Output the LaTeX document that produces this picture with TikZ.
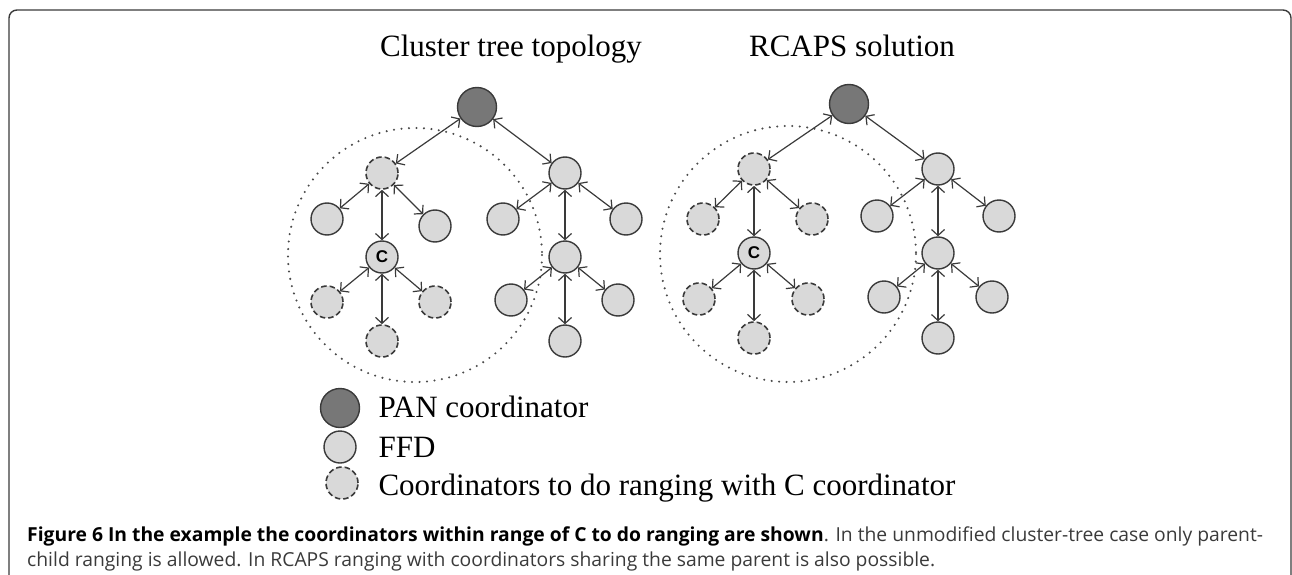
\documentclass[tikz,border=0pt]{standalone}
\usepackage{fontspec}
\setmainfont{Liberation Serif}
\newfontfamily\capfont{Open Sans}
\newfontfamily\labfont{Liberation Sans}
\usetikzlibrary{arrows.meta}
\definecolor{edgecol}{HTML}{3A3A3A}
\definecolor{ffdfill}{HTML}{D9D9D9}
\definecolor{panfill}{HTML}{777777}
\definecolor{dotcol}{HTML}{4A4A4A}
\definecolor{captxtcol}{HTML}{3A3A3A}
\tikzset{
  ffdnode/.style={circle, draw=edgecol, fill=ffdfill, line width=1.4pt, minimum size=32pt, inner sep=0pt},
  rngnode/.style={ffdnode, line width=1.6pt, dash pattern=on 5.5pt off 3pt},
  pannode/.style={circle, draw=edgecol, fill=panfill, line width=1.4pt, minimum size=39pt, inner sep=0pt},
  conn/.style={{Straight Barb[length=6pt,width=13pt]}-{Straight Barb[length=6pt,width=13pt]}, line width=1.2pt, draw=edgecol},
  rangecirc/.style={draw=dotcol, line width=2.3pt, line cap=round, dash pattern=on 0pt off 7.5pt},
  ttlstyle/.style={font=\fontsize{31}{37}\selectfont, anchor=base},
  legtxt/.style={font=\fontsize{31}{37}\selectfont, anchor=base west},
  clab/.style={font=\labfont\bfseries\fontsize{17}{20}\selectfont},
  capstyle/.style={font=\capfont\fontsize{19.3}{24}\selectfont, anchor=base west, inner sep=0pt, text=captxtcol}
}
\begin{document}
\begin{tikzpicture}[x=1pt,y=-1pt]
\useasboundingbox (0,0) rectangle (1292,575);
% frame
\draw[edgecol, line width=1.4pt, rounded corners=8pt] (9,600) -- (9,10) -- (1291,10) -- (1291,600);
% titles
\node[ttlstyle] (t1) at (511,57) {Cluster tree topology};
\node[ttlstyle] (t2) at (852,57) {RCAPS solution};
% range circles
\draw[rangecirc] (415,255) circle[radius=127];
\draw[rangecirc] (788,254) circle[radius=128];
% tree 1
\node[pannode] (r1) at (477,107) {};
\node[rngnode] (a1) at (382,173) {};
\node[ffdnode] (b1) at (565,173) {};
\node[ffdnode] (a1L) at (327,219) {};
\node[ffdnode] (a1R) at (435,226) {};
\node[ffdnode, clab] (c1) at (382,257) {C};
\node[rngnode] (c1L) at (327,302) {};
\node[rngnode] (c1R) at (435,302) {};
\node[rngnode] (c1B) at (382,341) {};
\node[ffdnode] (b1L) at (503,219) {};
\node[ffdnode] (b1R) at (626,219) {};
\node[ffdnode] (d1) at (565,257) {};
\node[ffdnode] (d1L) at (511,300) {};
\node[ffdnode] (d1R) at (618,300) {};
\node[ffdnode] (d1B) at (565,341) {};
\foreach \p/\c in {r1/a1,r1/b1,a1/a1L,a1/a1R,a1/c1,c1/c1L,c1/c1R,c1/c1B,b1/b1L,b1/b1R,b1/d1,d1/d1L,d1/d1R,d1/d1B}
  \draw[conn] (\p) -- (\c);
% tree 2
\node[pannode] (r2) at (849,104) {};
\node[rngnode] (a2) at (754,169) {};
\node[ffdnode] (b2) at (938,169) {};
\node[rngnode] (a2L) at (703,219) {};
\node[rngnode] (a2R) at (812,219) {};
\node[ffdnode, clab] (c2) at (754,253) {C};
\node[rngnode] (c2L) at (699,299) {};
\node[rngnode] (c2R) at (808,299) {};
\node[rngnode] (c2B) at (754,338) {};
\node[ffdnode] (b2L) at (877,216) {};
\node[ffdnode] (b2R) at (999,216) {};
\node[ffdnode] (d2) at (938,253) {};
\node[ffdnode] (d2L) at (884,297) {};
\node[ffdnode] (d2R) at (992,297) {};
\node[ffdnode] (d2B) at (938,338) {};
\foreach \p/\c in {r2/a2,r2/b2,a2/a2L,a2/a2R,a2/c2,c2/c2L,c2/c2R,c2/c2B,b2/b2L,b2/b2R,b2/d2,d2/d2L,d2/d2R,d2/d2B}
  \draw[conn] (\p) -- (\c);
% legend
\node[pannode] (lp) at (340,408) {};
\node[ffdnode] (lf) at (340,447) {};
\node[rngnode] (lr) at (342,483) {};
\node[legtxt] (tp) at (375,417) {PAN coordinator};
\node[legtxt] (tf) at (375,457) {FFD};
\node[legtxt] (tr) at (375,495) {Coordinators to do ranging with C coordinator};
% caption
\node[capstyle] (cap1) at (27,541) {\textbf{\color{black}Figure 6 In the example the coordinators within range of C to do ranging are shown}. In the unmodified cluster-tree case only parent-};
\node[capstyle] (cap2) at (27,566) {child ranging is allowed. In RCAPS ranging with coordinators sharing the same parent is also possible.};
\end{tikzpicture}
\end{document}
